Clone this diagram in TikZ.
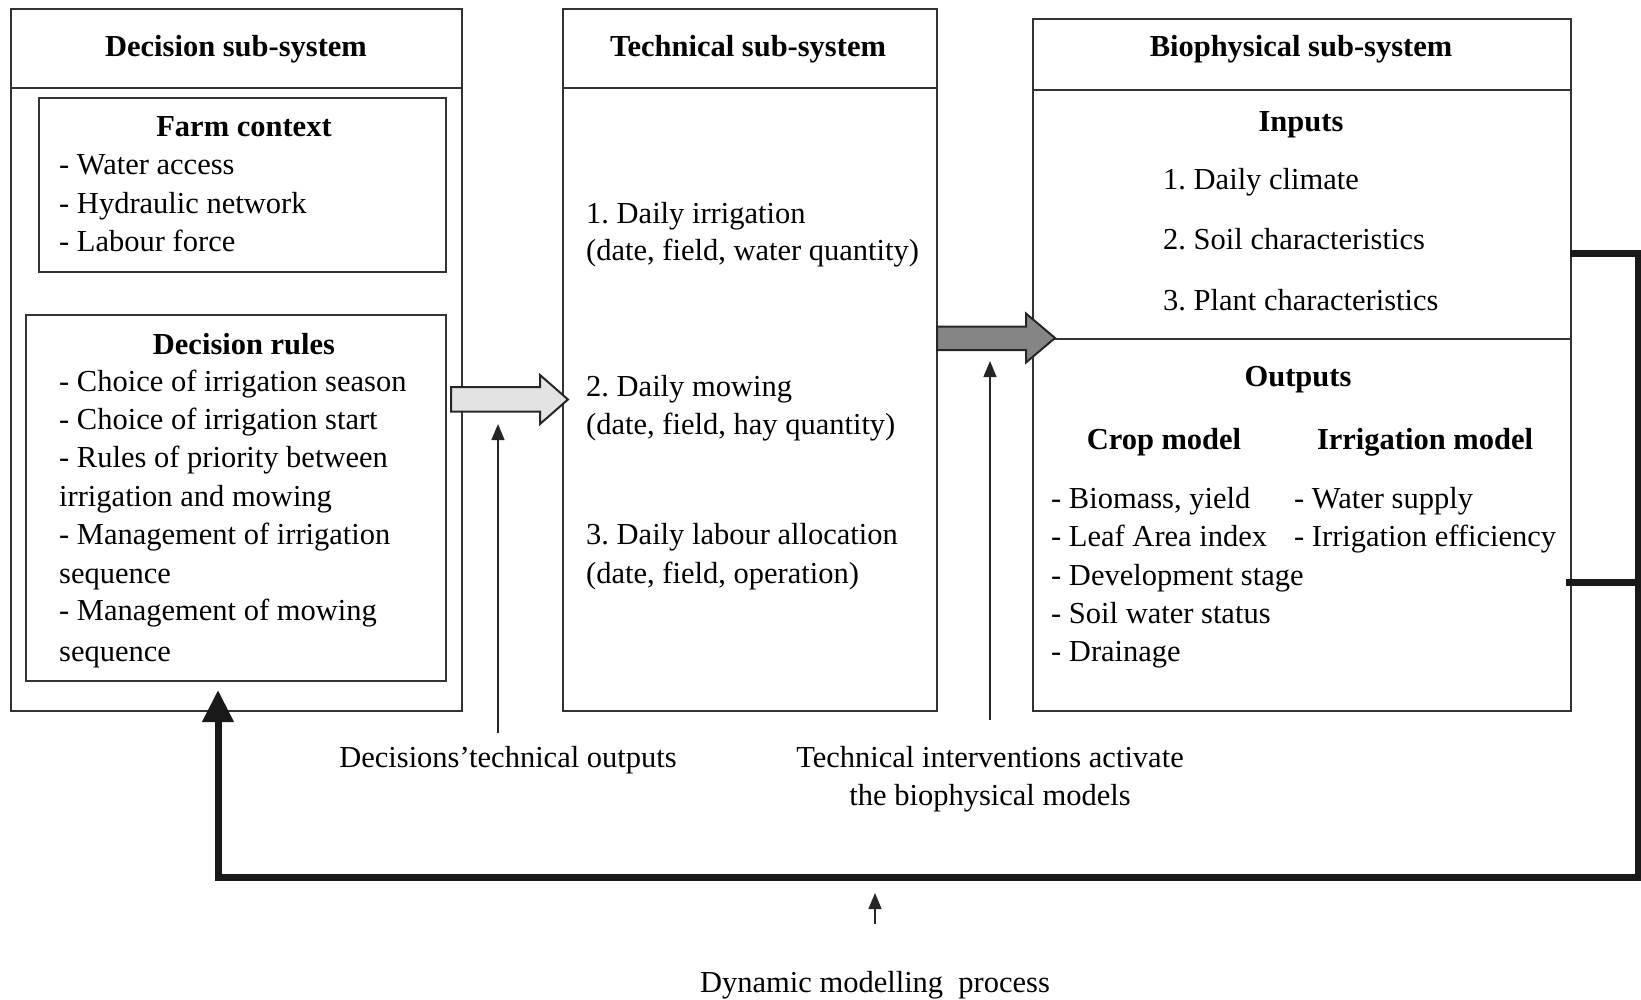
\documentclass[tikz,border=0pt]{standalone}
\usepackage{fontspec}
\setmainfont{Liberation Serif}
\usetikzlibrary{arrows.meta}
\frenchspacing
\begin{document}
\begin{tikzpicture}[x=1pt,y=-1pt,
  box/.style={draw=black!80, line width=2pt, anchor=north west, inner sep=0pt},
  txt/.style={anchor=base west, inner sep=0pt, font=\fontsize{30.5}{38}\selectfont},
  ctxt/.style={anchor=base, inner sep=0pt, font=\fontsize{30.5}{38}\selectfont},
  ttl/.style={anchor=base, inner sep=0pt, font=\fontsize{30.5}{38}\selectfont\bfseries},
  blockarrow/.style={draw=black!85, line width=2pt, line join=miter},
  thinarrow/.style={-{Triangle[length=16pt,width=13pt]}, line width=1.3pt, black!85},
  feedback/.style={line width=7pt, black!90, line join=miter},
]
\useasboundingbox (0,0) rectangle (1641,1000);
% boxes
\node[box, minimum width=451pt, minimum height=79pt] (dech) at (10,8) {};
\node[box, minimum width=451pt, minimum height=623pt] (decb) at (10,87) {};
\node[box, minimum width=407pt, minimum height=174pt] (farm) at (38,97) {};
\node[box, minimum width=420pt, minimum height=366pt] (rules) at (25,314) {};
\node[box, minimum width=374pt, minimum height=79pt] (techh) at (562,8) {};
\node[box, minimum width=374pt, minimum height=623pt] (techb) at (562,87) {};
\node[box, minimum width=538pt, minimum height=71pt] (bioh) at (1032,18) {};
\node[box, minimum width=538pt, minimum height=249pt] (bioin) at (1032,89) {};
\node[box, minimum width=538pt, minimum height=372pt] (bioout) at (1032,338) {};
% block arrows
\coordinate (a1) at (451,399);
\coordinate (a2) at (937,338);
\draw[blockarrow, fill=black!11] (a1) ++(0,-12) -- ++(89,0) -- ++(0,-12) -- ++(28,24.5)
  -- ++(-28,24.5) -- ++(0,-12.5) -- ++(-89,0) -- cycle;
\draw[blockarrow, fill=black!48] (a2) ++(0,-11.5) -- ++(89,0) -- ++(0,-13) -- ++(29,24.5)
  -- ++(-29,24.5) -- ++(0,-12.5) -- ++(-89,0) -- cycle;
% titles
\node[ttl] (t1) at (236,57) {Decision sub-system};
\node[ttl] (t2) at (748,57) {Technical sub-system};
\node[ttl] (t3) at (1301,57) {Biophysical sub-system};
% farm context
\node[ttl] (fc) at (244,137) {Farm context};
\node[txt] (fc1) at (59,175) {- Water access};
\node[txt] (fc2) at (59,214) {- Hydraulic network};
\node[txt] (fc3) at (59,252) {- Labour force};
% decision rules
\node[ttl] (dr) at (244,354) {Decision rules};
\node[txt] (dr1) at (59,391) {- Choice of irrigation season};
\node[txt] (dr2) at (59,429) {- Choice of irrigation start};
\node[txt] (dr3) at (59,467) {- Rules of priority between};
\node[txt] (dr4) at (59,506) {irrigation and mowing};
\node[txt] (dr5) at (59,544) {- Management of irrigation};
\node[txt] (dr6) at (59,583) {sequence};
\node[txt] (dr7) at (59,620) {- Management of mowing};
\node[txt] (dr8) at (59,661) {sequence};
% technical
\node[txt] (te1) at (586,224) {1. Daily irrigation};
\node[txt] (te2) at (586,261) {(date, field, water quantity)};
\node[txt] (te3) at (586,396) {2. Daily mowing};
\node[txt] (te4) at (586,434) {(date, field, hay quantity)};
\node[txt] (te5) at (586,544) {3. Daily labour allocation};
\node[txt] (te6) at (586,583) {(date, field, operation)};
% biophysical inputs
\node[ttl] (inp) at (1301,132) {Inputs};
\node[txt] (in1) at (1163,190) {1. Daily climate};
\node[txt] (in2) at (1163,250) {2. Soil characteristics};
\node[txt] (in3) at (1163,311) {3. Plant characteristics};
% biophysical outputs
\node[ttl] (outp) at (1298,386) {Outputs};
\node[ttl] (crop) at (1164,449) {Crop model};
\node[ttl] (irr) at (1425,449) {Irrigation model};
\node[txt] (c1) at (1051,508) {- Biomass, yield};
\node[txt] (c2) at (1051,546) {- Leaf Area index};
\node[txt] (c3) at (1051,585) {- Development stage};
\node[txt] (c4) at (1051,623) {- Soil water status};
\node[txt] (c5) at (1051,661) {- Drainage};
\node[txt] (i1) at (1294,508) {- Water supply};
\node[txt] (i2) at (1294,546) {- Irrigation efficiency};
% bottom labels
\node[ctxt] (lab1) at (508,767) {Decisions’technical outputs};
\node[ctxt] (lab2a) at (990,767) {Technical interventions activate};
\node[ctxt] (lab2b) at (990,805) {the biophysical models};
\node[ctxt] (lab3) at (875,992) {Dynamic modelling~ process};
% thin arrows
\coordinate (s1) at (498,733);
\coordinate (e1) at (498,424);
\coordinate (s2) at (990,720);
\coordinate (e2) at (990,361);
\coordinate (s3) at (875,924);
\coordinate (e3) at (875,893);
\draw[thinarrow] (s1) -- (e1);
\draw[thinarrow] (s2) -- (e2);
\draw[thinarrow] (s3) -- (e3);
% feedback loop
\coordinate (f1) at (1570,254);
\coordinate (f2) at (1566,582);
\coordinate (fr) at (1638,877);
\coordinate (fl) at (218,877);
\coordinate (ftip) at (218,690);
\draw[feedback, -{Triangle[length=32pt,width=30pt]}] (f1) -- (f1 -| fr) -- (fr) -- (fl) -- (ftip);
\draw[feedback] (f2) -- (f2 -| fr);
\end{tikzpicture}
\end{document}
